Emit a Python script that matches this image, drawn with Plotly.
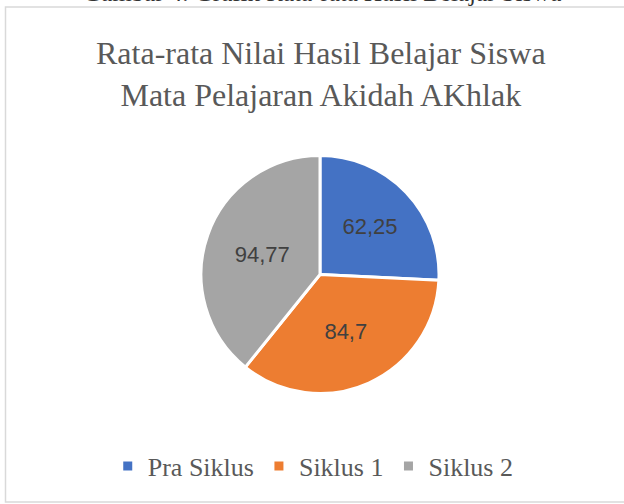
import plotly.graph_objects as go

categories = ["Pra Siklus", "Siklus 1", "Siklus 2"]
values = [62.25, 84.7, 94.77]
colors = ["#4472C4", "#ED7D31", "#A5A5A5"]
title_lines = ["Rata-rata Nilai Hasil Belajar Siswa", "Mata Pelajaran Akidah AKhlak"]
caption = "Gambar 4. Grafik Rata-rata Hasil Belajar Siswa"

W, H = 624, 504
labels_text = [str(v).replace(".", ",") for v in values]

fig = go.Figure()
fig.add_trace(go.Pie(
    labels=categories,
    values=values,
    text=labels_text,
    textinfo="text",
    textposition="inside",
    insidetextorientation="horizontal",
    textfont=dict(family="Liberation Sans", size=22, color="#404040"),
    marker=dict(colors=colors, line=dict(color="white", width=3)),
    sort=False,
    direction="clockwise",
    rotation=0,
    hoverinfo="label+value",
    domain=dict(x=[201 / W, 439 / W], y=[1 - 394 / H, 1 - 155 / H]),
))

fig.update_layout(
    width=W, height=H,
    margin=dict(l=0, r=0, t=0, b=0),
    paper_bgcolor="white",
    plot_bgcolor="white",
    showlegend=True,
    legend=dict(
        orientation="h",
        x=0.502, xanchor="center",
        y=1 - 466 / H, yanchor="middle",
        font=dict(family="Liberation Serif", size=26, color="#595959"),
        itemwidth=30,
        traceorder="normal",
    ),
    shapes=[dict(
        type="rect", xref="paper", yref="paper",
        x0=5.5 / W, x1=1.02, y0=2 / H, y1=1 - 7 / H,
        line=dict(color="#d9d9d9", width=1.5),
        fillcolor="rgba(0,0,0,0)", layer="below",
    )],
    annotations=[
        dict(text="<br>".join(title_lines), x=0.515, y=1 - 33 / H,
             xref="paper", yref="paper", xanchor="center", yanchor="top",
             showarrow=False, align="center",
             font=dict(family="Liberation Serif", size=32, color="#595959")),
        dict(text=caption, x=322 / W, y=1 - 8 / H,
             xref="paper", yref="paper", xanchor="center", yanchor="bottom",
             showarrow=False,
             font=dict(family="Liberation Serif", size=25, color="#333333")),
    ],
)

fig.write_html("out.html", config={"displayModeBar": False},
               post_script="document.body.style.margin='0';document.body.style.padding='0';")
